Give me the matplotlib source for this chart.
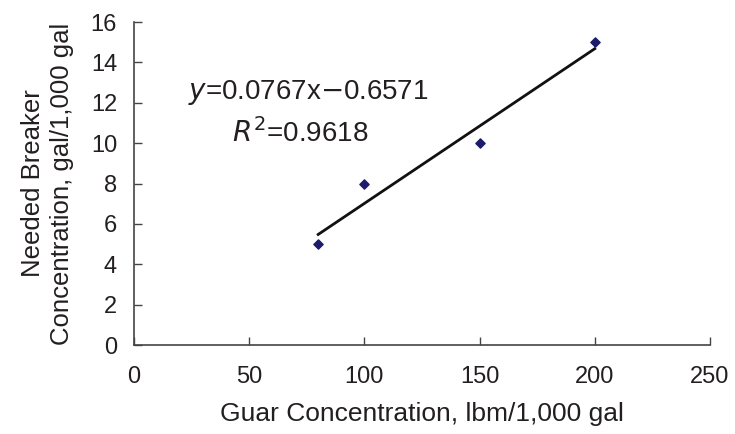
import matplotlib
matplotlib.use("Agg")
import matplotlib.pyplot as plt
import numpy as np

plt.rcParams['font.family'] = ['Liberation Sans', 'DejaVu Sans']

# datos
guar = [80, 100, 150, 200]
breaker = [5, 8, 10, 15]
pendiente = 0.0767
intercepto = -0.6571
r2 = 0.9618

x_ticks = [0, 50, 100, 150, 200, 250]
y_ticks = [0, 2, 4, 6, 8, 10, 12, 14, 16]

txt = '#231f20'

fig = plt.figure(figsize=(7.35, 4.34), dpi=100)
ax = fig.add_axes([0.182, 0.205, 0.784, 0.744])

# linea de tendencia
xf = np.array([min(guar), max(guar)])
ax.plot(xf, pendiente * xf + intercepto, color='#111111', linewidth=2.0, zorder=2)
ax.scatter(guar, breaker, marker='D', s=22, color='#1c1c6b', zorder=3)

ax.text(75.5, 12.5, r'$y$=0.0767x$-$0.6571', fontsize=20, color=txt,
        ha='center', va='center')
ax.text(72, 10.5, r'$R^2$=0.9618', fontsize=20, color=txt, ha='center', va='center')

ax.set_xlim(0, 250)
ax.set_ylim(0, 16)
ax.set_xticks(x_ticks)
ax.set_yticks(y_ticks)
ax.tick_params(direction='in', length=6, width=1, colors='#444444',
               labelcolor=txt, labelsize=17)
ax.tick_params(axis='x', pad=15)
ax.tick_params(axis='y', pad=12)
for s in ['top', 'right']:
    ax.spines[s].set_visible(False)
for s in ['left', 'bottom']:
    ax.spines[s].set_color('#444444')
    ax.spines[s].set_linewidth(1.2)

ax.set_xlabel('Guar Concentration, lbm/1,000 gal', fontsize=19, color=txt, labelpad=10)
ax.set_ylabel('Needed Breaker\nConcentration, gal/1,000 gal', fontsize=18.5, color=txt,
              labelpad=12, linespacing=1.25)

fig.savefig('out.png', dpi=100)
